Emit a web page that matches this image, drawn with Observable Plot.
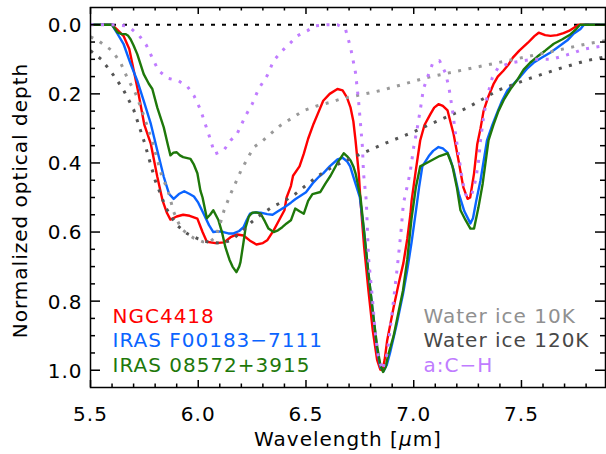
<!DOCTYPE html>
<html>
<head>
<meta charset="utf-8">
<script src="https://cdn.jsdelivr.net/npm/d3@7"></script>
<script src="https://cdn.jsdelivr.net/npm/@observablehq/plot@0.6"></script>
<style>
  html, body { margin: 0; padding: 0; background: white; }
</style>
</head>
<body>
<div id="chart"></div>
<script>
// ---- Observed spectra ----
const ngcWave = [5.50,5.60,5.625,5.653,5.68,5.70,5.72,5.75,5.78,5.81,5.835,5.855,5.871,5.90,5.93,5.96,5.996,6.02,6.04,6.08,6.12,6.15,6.18,6.21,6.24,6.27,6.30,6.32,6.35,6.38,6.40,6.41,6.43,6.44,6.47,6.49,6.51,6.535,6.56,6.58,6.61,6.646,6.67,6.69,6.707,6.72,6.73,6.745,6.753,6.77,6.79,6.81,6.83,6.845,6.855,6.865,6.877,6.906,6.93,6.952,6.97,6.985,6.99,7.01,7.03,7.05,7.078,7.095,7.115,7.135,7.157,7.17,7.185,7.21,7.23,7.25,7.262,7.28,7.295,7.31,7.324,7.345,7.37,7.39,7.416,7.44,7.46,7.49,7.53,7.56,7.58,7.61,7.635,7.665,7.695,7.72,7.74,7.765,7.89];
const ngcTau  = [0,0,0.015,0.032,0.07,0.13,0.19,0.29,0.345,0.44,0.51,0.545,0.564,0.555,0.55,0.553,0.561,0.60,0.628,0.632,0.63,0.615,0.607,0.61,0.625,0.636,0.632,0.624,0.595,0.56,0.537,0.50,0.467,0.437,0.41,0.373,0.33,0.287,0.25,0.22,0.20,0.186,0.19,0.21,0.24,0.28,0.335,0.43,0.51,0.644,0.77,0.885,0.97,0.998,1.0,0.97,0.913,0.82,0.75,0.69,0.62,0.547,0.51,0.42,0.335,0.29,0.258,0.24,0.23,0.235,0.248,0.28,0.316,0.40,0.47,0.504,0.50,0.43,0.345,0.30,0.25,0.21,0.172,0.15,0.133,0.115,0.095,0.075,0.052,0.033,0.023,0.03,0.032,0.03,0.024,0.018,0.01,0,0];

const irasFWave = [5.50,5.60,5.625,5.653,5.686,5.717,5.747,5.78,5.81,5.84,5.865,5.886,5.91,5.935,5.96,5.98,6.0,6.025,6.05,6.07,6.095,6.117,6.14,6.164,6.19,6.21,6.225,6.24,6.265,6.29,6.32,6.345,6.37,6.40,6.43,6.45,6.475,6.50,6.535,6.56,6.58,6.61,6.646,6.67,6.69,6.705,6.72,6.735,6.75,6.77,6.79,6.81,6.83,6.845,6.86,6.875,6.89,6.92,6.95,6.97,6.99,7.01,7.025,7.04,7.07,7.09,7.115,7.135,7.157,7.17,7.185,7.21,7.235,7.263,7.275,7.29,7.31,7.34,7.365,7.39,7.41,7.435,7.465,7.495,7.525,7.556,7.595,7.635,7.667,7.713,7.74,7.774,7.79,7.89];
const irasFTau  = [0,0,0.026,0.055,0.113,0.162,0.22,0.287,0.364,0.44,0.49,0.504,0.49,0.482,0.49,0.497,0.515,0.547,0.58,0.60,0.598,0.60,0.604,0.604,0.597,0.586,0.565,0.547,0.543,0.544,0.548,0.55,0.54,0.528,0.515,0.505,0.495,0.485,0.456,0.44,0.43,0.41,0.39,0.385,0.395,0.41,0.44,0.47,0.50,0.60,0.72,0.83,0.94,0.99,1.003,0.985,0.95,0.87,0.78,0.71,0.63,0.54,0.47,0.41,0.38,0.365,0.354,0.358,0.37,0.39,0.42,0.49,0.54,0.575,0.56,0.51,0.45,0.335,0.29,0.25,0.22,0.19,0.17,0.15,0.128,0.11,0.095,0.08,0.066,0.045,0.027,0.012,0,0];

const iras08Wave = [5.50,5.60,5.625,5.645,5.662,5.675,5.686,5.70,5.717,5.747,5.77,5.787,5.81,5.84,5.86,5.871,5.885,5.90,5.915,5.93,5.964,5.98,5.996,6.01,6.02,6.04,6.055,6.07,6.094,6.11,6.126,6.145,6.159,6.177,6.19,6.196,6.21,6.22,6.235,6.25,6.27,6.29,6.31,6.326,6.35,6.37,6.39,6.41,6.43,6.45,6.47,6.49,6.51,6.53,6.567,6.59,6.614,6.646,6.675,6.69,6.707,6.72,6.73,6.753,6.77,6.79,6.81,6.83,6.845,6.858,6.87,6.88,6.907,6.93,6.95,6.97,6.99,7.01,7.03,7.06,7.09,7.12,7.157,7.18,7.20,7.217,7.24,7.263,7.28,7.30,7.32,7.347,7.37,7.393,7.42,7.449,7.48,7.51,7.54,7.574,7.61,7.65,7.69,7.727,7.75,7.772,7.89];
const iras08Tau  = [0,0,0.022,0.027,0.027,0.032,0.042,0.06,0.085,0.143,0.17,0.186,0.24,0.297,0.35,0.378,0.37,0.369,0.378,0.383,0.388,0.405,0.43,0.48,0.50,0.56,0.55,0.537,0.566,0.60,0.644,0.68,0.70,0.716,0.70,0.687,0.63,0.586,0.555,0.544,0.543,0.547,0.57,0.59,0.60,0.595,0.586,0.575,0.566,0.532,0.54,0.547,0.51,0.49,0.484,0.46,0.437,0.40,0.372,0.38,0.393,0.41,0.43,0.50,0.60,0.72,0.83,0.93,0.985,1.005,0.99,0.96,0.90,0.83,0.77,0.68,0.56,0.47,0.41,0.40,0.39,0.38,0.372,0.41,0.47,0.537,0.565,0.59,0.59,0.53,0.46,0.335,0.29,0.25,0.215,0.186,0.16,0.13,0.11,0.092,0.075,0.055,0.042,0.028,0.015,0,0];

// ---- Laboratory templates ----
const ice10Wave = [5.50,5.53,5.60,5.64,5.67,5.71,5.74,5.765,5.79,5.81,5.83,5.86,5.885,5.92,5.95,5.98,6.02,6.05,6.08,6.10,6.12,6.15,6.20,6.257,6.30,6.335,6.38,6.44,6.49,6.55,6.61,6.66,6.85,7.06,7.25,7.435,7.62,7.806,7.89];
const ice10Tau  = [0.035,0.043,0.075,0.11,0.153,0.20,0.25,0.297,0.345,0.39,0.436,0.48,0.54,0.59,0.605,0.618,0.628,0.63,0.615,0.58,0.537,0.49,0.42,0.355,0.335,0.316,0.292,0.268,0.248,0.235,0.225,0.215,0.19,0.153,0.128,0.104,0.08,0.055,0.046];

const ice120Wave = [5.50,5.55,5.60,5.65,5.70,5.75,5.80,5.85,5.90,5.95,6.00,6.05,6.10,6.15,6.20,6.25,6.30,6.35,6.40,6.45,6.50,6.55,6.60,6.66,6.75,6.86,7.00,7.08,7.25,7.39,7.53,7.67,7.80,7.89];
const ice120Tau  = [0.075,0.10,0.14,0.185,0.245,0.34,0.45,0.53,0.58,0.605,0.62,0.63,0.632,0.625,0.60,0.57,0.545,0.525,0.51,0.49,0.465,0.44,0.42,0.40,0.375,0.345,0.31,0.287,0.24,0.19,0.157,0.128,0.104,0.093];

const achWave = [5.50,5.60,5.66,5.69,5.727,5.76,5.79,5.816,5.86,5.908,5.95,5.98,6.01,6.034,6.05,6.077,6.118,6.15,6.18,6.22,6.25,6.28,6.32,6.35,6.39,6.43,6.46,6.507,6.544,6.60,6.646,6.683,6.707,6.73,6.744,6.753,6.762,6.767,6.78,6.79,6.808,6.822,6.836,6.855,6.877,6.89,6.906,6.924,6.94,6.952,6.976,6.985,7.0,7.017,7.03,7.045,7.064,7.087,7.12,7.147,7.163,7.18,7.194,7.21,7.226,7.24,7.25,7.27,7.287,7.30,7.31,7.324,7.34,7.365,7.393,7.45,7.50,7.55,7.64,7.74,7.78,7.83,7.89];
const achTau  = [0,0,0.003,0.012,0.032,0.06,0.10,0.133,0.155,0.162,0.179,0.205,0.245,0.29,0.32,0.374,0.364,0.335,0.316,0.263,0.23,0.186,0.147,0.104,0.075,0.051,0.032,0.017,0.003,0,0,0.012,0.066,0.139,0.22,0.287,0.354,0.43,0.51,0.673,0.79,0.894,0.962,1.0,0.951,0.885,0.80,0.70,0.605,0.518,0.45,0.42,0.354,0.297,0.248,0.186,0.152,0.113,0.104,0.139,0.18,0.248,0.316,0.384,0.45,0.49,0.50,0.49,0.45,0.40,0.335,0.268,0.21,0.152,0.123,0.11,0.105,0.10,0.10,0.082,0.072,0.066,0.06];

// ---- Labels / ticks ----
const obsLabels = ["NGC4418", "IRAS F00183\u22127111", "IRAS 08572+3915"];
const obsColors = ["#ff0000", "#0a64ff", "#1e780a"];
const labLabels = ["Water ice 10K", "Water ice 120K", "a:C\u2212H"];
const labColors = ["#999999", "#555555", "#c07cff"];
const labTextColors = ["#909090", "#484848", "#c07cff"];
const xMajor = [5.5, 6.0, 6.5, 7.0, 7.5];
const xMinor = [5.6,5.7,5.8,5.9,6.1,6.2,6.3,6.4,6.6,6.7,6.8,6.9,7.1,7.2,7.3,7.4,7.6,7.7,7.8];
const yMajor = [0.0, 0.2, 0.4, 0.6, 0.8, 1.0];
const yMinor = [0.05,0.1,0.15,0.25,0.3,0.35,0.45,0.5,0.55,0.65,0.7,0.75,0.85,0.9,0.95];
const xTitle = "Wavelength [\u03bcm]";
const yTitle = "Normalized optical depth";

const toRows = (w, t) => w.map((x, i) => ({x, y: t[i]}));
const observed = [toRows(ngcWave, ngcTau), toRows(irasFWave, irasFTau), toRows(iras08Wave, iras08Tau)];
const templates = [toRows(ice10Wave, ice10Tau), toRows(ice120Wave, ice120Tau), toRows(achWave, achTau)];

const W = 606, H = 454, mL = 90, mR = 1, mT = 7, mB = 67;
const pw = W - mL - mR, ph = H - mT - mB;

const marks = [
  Plot.ruleY([0], {stroke: "black", strokeWidth: 2, strokeDasharray: "4,7"}),
  ...observed.map((rows, i) => Plot.line(rows, {x: "x", y: "y", stroke: obsColors[i], strokeWidth: 2.4, clip: true})),
  ...templates.map((rows, i) => Plot.line(rows, {x: "x", y: "y", stroke: labColors[i], strokeWidth: 3, strokeDasharray: "3,7.5", strokeLinecap: "butt", clip: true})),
  Plot.frame({stroke: "black", strokeWidth: 1.5}),
  // inward ticks on all four sides
  Plot.tickY(yMajor, {y: d => d, insetRight: pw - 10, stroke: "black", strokeWidth: 1.5}),
  Plot.tickY(yMajor, {y: d => d, insetLeft: pw - 10, stroke: "black", strokeWidth: 1.5}),
  Plot.tickY(yMinor, {y: d => d, insetRight: pw - 5, stroke: "black", strokeWidth: 1.5}),
  Plot.tickY(yMinor, {y: d => d, insetLeft: pw - 5, stroke: "black", strokeWidth: 1.5}),
  Plot.tickX(xMajor, {x: d => d, insetTop: ph - 7, stroke: "black", strokeWidth: 1.5}),
  Plot.tickX(xMajor, {x: d => d, insetBottom: ph - 7, stroke: "black", strokeWidth: 1.5}),
  Plot.tickX(xMinor, {x: d => d, insetTop: ph - 3.5, stroke: "black", strokeWidth: 1.5}),
  Plot.tickX(xMinor, {x: d => d, insetBottom: ph - 3.5, stroke: "black", strokeWidth: 1.5}),
  Plot.axisX({ticks: xMajor, tickFormat: d3.format(".1f"), tickSize: 0, tickPadding: 19, label: null, fill: "black"}),
  Plot.axisY({ticks: yMajor, tickFormat: d3.format(".1f"), tickSize: 0, tickPadding: 8, label: null, fill: "black", dy: 1}),
  Plot.text([xTitle], {text: d => d, frameAnchor: "bottom", textAnchor: "middle", lineAnchor: "bottom", dy: 58, fill: "black", className: "xtitle"}),
  Plot.text([yTitle], {text: d => d, frameAnchor: "left", textAnchor: "middle", rotate: -90, lineAnchor: "middle", dx: -70, dy: 3, fill: "black"}),
  ...obsLabels.map((t, i) => Plot.text([t], {text: d => d, frameAnchor: "bottom-left", textAnchor: "start", lineAnchor: "bottom", dx: 22, dy: -65 + i * 24.5, fill: obsColors[i]})),
  ...labLabels.map((t, i) => Plot.text([t], {text: d => d, frameAnchor: "bottom-left", textAnchor: "start", lineAnchor: "bottom", dx: 333, dy: -65 + i * 24.5, fill: labTextColors[i]}))
];

const chart = Plot.plot({
  width: W, height: H,
  marginLeft: mL, marginRight: mR, marginTop: mT, marginBottom: mB,
  x: {domain: [5.5, 7.89]},
  y: {domain: [-0.05, 1.05], reverse: true},
  style: {fontFamily: "'DejaVu Sans', sans-serif", fontSize: "20px", background: "white", color: "black", letterSpacing: "1px", overflow: "visible"},
  marks
});

// italic mu in the x-axis title
d3.select(chart).selectAll("g.xtitle text").each(function () {
  const el = d3.select(this);
  el.text(null);
  el.append("tspan").text("Wavelength [");
  el.append("tspan").attr("font-style", "italic").text("\u03bc");
  el.append("tspan").text("m]");
});

document.getElementById("chart").appendChild(chart);
</script>
</body>
</html>
